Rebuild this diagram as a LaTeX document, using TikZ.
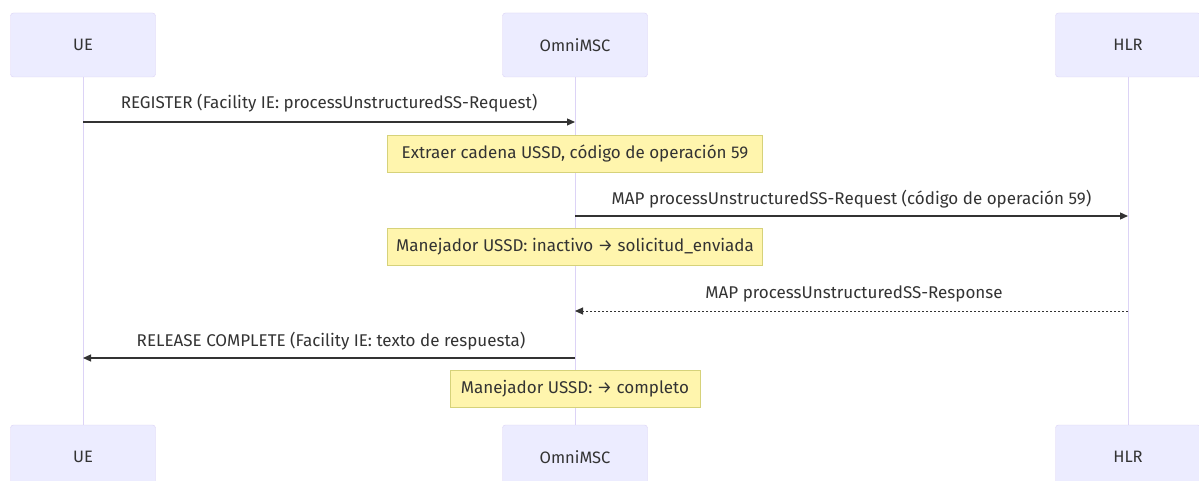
\documentclass[tikz,border=0pt]{standalone}
\usepackage{fontspec}
\setmainfont{Fira Sans}
\usetikzlibrary{arrows.meta}
\definecolor{actfill}{HTML}{ECECFF}
\definecolor{actline}{HTML}{DCD3F6}
\definecolor{notefill}{HTML}{FFF5AD}
\definecolor{noteline}{HTML}{D6D27A}
\definecolor{txt}{HTML}{333333}
\tikzset{
  x=1pt, y=-1pt,
  actor/.style={draw=actline, fill=actfill, rounded corners=3pt, minimum width=145pt, minimum height=64pt, inner sep=0pt, font=\fontsize{16.5}{18}\selectfont, text=txt},
  notebox/.style={draw=noteline, fill=notefill, line width=0.8pt, minimum height=37pt, inner sep=0pt, font=\fontsize{17}{19}\selectfont, text=txt},
  msgtext/.style={font=\fontsize{17}{19}\selectfont, text=txt},
  msg/.style={draw=txt, line width=1.2pt, -{Triangle[length=8pt,width=7pt]}},
  reply/.style={draw=txt, line width=1pt, dash pattern=on 2pt off 2pt, -{Triangle[length=8pt,width=7pt]}},
  lifeline/.style={draw=actline, line width=1pt},
}
\begin{document}
\begin{tikzpicture}
\useasboundingbox (0,0) rectangle (1199,481);
\clip (0,0) rectangle (1199,481);
\fill[white] (0,0) rectangle (1199,481);
% actors
\node[actor] (ueT) at (83,45) {UE};
\node[actor] (mscT) at (575,45) {OmniMSC};
\node[actor] (hlrT) at (1128,45) {HLR};
\node[actor] (ueB) at (83,457) {UE};
\node[actor] (mscB) at (575,457) {OmniMSC};
\node[actor] (hlrB) at (1128,457) {HLR};
% lifelines
\draw[lifeline] (ueT.south) -- (ueB.north);
\draw[lifeline] (mscT.south) -- (mscB.north);
\draw[lifeline] (hlrT.south) -- (hlrB.north);
% message 1
\coordinate (m1a) at (83,122);
\coordinate (m1b) at (575,122);
\node[msgtext] (t1) at (329,103) {REGISTER (Facility IE: processUnstructuredSS-Request)};
\draw[msg] (m1a) -- (m1b);
% note 1
\node[notebox, minimum width=375pt] (n1) at (575,153.5) {Extraer cadena USSD, código de operación 59};
% message 2
\coordinate (m2a) at (575,216);
\coordinate (m2b) at (1128,216);
\node[msgtext] (t2) at (851.5,199) {MAP processUnstructuredSS-Request (código de operación 59)};
\draw[msg] (m2a) -- (m2b);
% note 2
\node[notebox, minimum width=375pt] (n2) at (575,246.5) {Manejador USSD: inactivo → solicitud\_enviada};
% message 3
\coordinate (m3a) at (1128,311);
\coordinate (m3b) at (575,311);
\node[msgtext] (t3) at (854,294) {MAP processUnstructuredSS-Response};
\draw[reply] (m3a) -- (m3b);
% message 4
\coordinate (m4a) at (575,358);
\coordinate (m4b) at (83,358);
\node[msgtext] (t4) at (331,341) {RELEASE COMPLETE (Facility IE: texto de respuesta)};
\draw[msg] (m4a) -- (m4b);
% note 3
\node[notebox, minimum width=250pt] (n3) at (575,389) {Manejador USSD: → completo};
\end{tikzpicture}
\end{document}
